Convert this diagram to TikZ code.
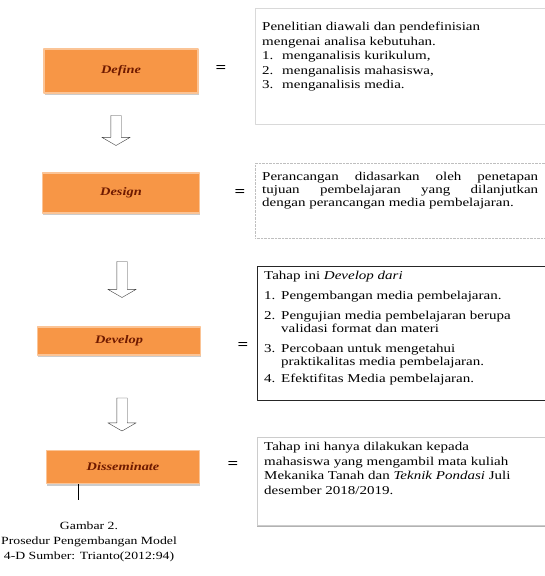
\documentclass[tikz,border=0pt]{standalone}
\usepackage{fontspec}
\setmainfont{Liberation Serif}[FakeStretch=1.25]
\usetikzlibrary{shapes.arrows,shadows}
\newcommand{\boxtext}[2]{\parbox[t][#1][t]{276pt}{#2}}
\begin{document}
\begin{tikzpicture}[x=1pt,y=-1pt,line join=round,
	stepbox/.style={rectangle,fill={rgb,255:red,247;green,150;blue,70},draw={rgb,255:red,251;green,196;blue,150},line width=1.5pt,
		drop shadow={shadow xshift=0.5pt,shadow yshift=-2pt,fill=black!40},
		font=\fontsize{11.5}{13}\selectfont\bfseries\itshape,text={rgb,255:red,110;green,25;blue,0}},
	eqsign/.style={font=\fontsize{15}{15}\selectfont\bfseries},
	textbox/.style={rectangle,anchor=north west,fill=white,inner xsep=7pt,font=\fontsize{12}{14.5}\selectfont},
	downarrow/.style={single arrow,draw=black!75,fill=white,rotate=-90,inner xsep=0pt,inner ysep=5pt,
		minimum width=28pt,single arrow head extend=9pt,single arrow tip angle=120},
	caption/.style={align=center,font=\fontsize{11}{15}\selectfont}]
	\useasboundingbox (0,0) rectangle (545,576);
	% tahap-tahap 4-D
	\node[stepbox,minimum width=154pt,minimum height=44pt] (def) at (121,71) {Define};
	\node[stepbox,minimum width=157pt,minimum height=40pt] (des) at (121,193) {Design};
	\node[stepbox,minimum width=163pt,minimum height=28pt] (dev) at (119,341) {Develop};
	\node[stepbox,minimum width=153pt,minimum height=33pt] (dis) at (123,467) {Disseminate};
	\node[downarrow,minimum height=30pt] (arr1) at (116,129) {};
	\node[downarrow,minimum height=36pt] (arr2) at (122,278) {};
	\node[downarrow,minimum height=33pt] (arr3) at (122,413) {};
	\node[eqsign] (eq1) at (221,69) {=};
	\node[eqsign] (eq2) at (240,193) {=};
	\node[eqsign] (eq3) at (243,346) {=};
	\node[eqsign] (eq4) at (233,465) {=};
	% keterangan
	\node[textbox,draw=gray!30,inner ysep=14pt] (deftext) at (255,8) {\boxtext{88pt}{%
		Penelitian diawali dan pendefinisian\\
		mengenai analisa kebutuhan.\\
		\makebox[20pt][l]{1.}menganalisis kurikulum,\\
		\makebox[20pt][l]{2.}menganalisis mahasiswa,\\
		\makebox[20pt][l]{3.}menganalisis media.}};
	\node[textbox,draw=gray!50,densely dotted,inner ysep=9pt] (destext) at (255,163) {\boxtext{57pt}{%
		\fontsize{12}{13}\selectfont
		Perancangan didasarkan oleh penetapan\linebreak
		tujuan pembelajaran yang dilanjutkan\linebreak
		dengan perancangan media pembelajaran.}};
	\node[textbox,draw=black!85,inner ysep=5pt] (devtext) at (257,266) {\boxtext{124pt}{%
		\fontsize{12}{13}\selectfont
		Tahap ini \textit{Develop dari}\\[7pt]
		\makebox[17pt][l]{1.}Pengembangan media pembelajaran.\\[7pt]
		\makebox[17pt][l]{2.}Pengujian media pembelajaran berupa\\
		\hspace*{17pt}validasi format dan materi\\[7pt]
		\makebox[17pt][l]{3.}Percobaan untuk mengetahui\\
		\hspace*{17pt}praktikalitas media pembelajaran.\\[4pt]
		\makebox[17pt][l]{4.}Efektifitas Media pembelajaran.}};
	\node[textbox,draw=gray!40,inner ysep=5pt,
		drop shadow={shadow xshift=0pt,shadow yshift=-2pt,fill=black!60}] (distext) at (257,437) {\boxtext{78pt}{%
		Tahap ini hanya dilakukan kepada\\
		mahasiswa yang mengambil mata kuliah\\
		Mekanika Tanah dan \textit{Teknik Pondasi} Juli\\
		desember 2018/2019.}};
	\coordinate (cur) at (78,500);
	\draw[line width=1pt] (cur |- dis.south) -- (cur);
	\node[caption] (cap) at (89,542) {Gambar 2.\\Prosedur Pengembangan Model\\4-D Sumber: Trianto(2012:94)};
\end{tikzpicture}
\end{document}
